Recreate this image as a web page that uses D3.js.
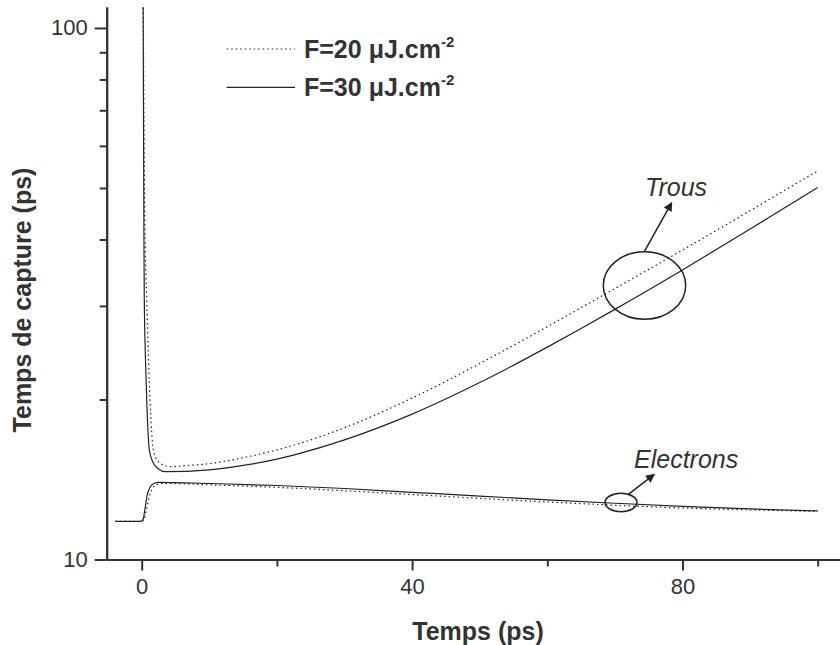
<!DOCTYPE html>
<html>
<head>
<meta charset="utf-8">
<script src="https://cdn.jsdelivr.net/npm/d3@7"></script>
<style>
  body { margin: 0; background: #fff; }
  text { font-family: "Liberation Sans", Arial, sans-serif; fill: #333; }
</style>
</head>
<body>
<div id="chart"></div>
<script>
// time (ps) and capture time (ps)
let holes30T = [0.18, 0.22, 0.28, 0.33, 0.38, 0.55, 0.74, 1.12, 1.7, 2.5, 3.4, 10, 15, 20, 23.4, 30, 40, 50, 60, 64.8, 70, 80, 90, 94.4, 100];
let holes30V = [130, 100, 60, 40, 31, 24, 20, 16.1, 15.2, 14.8, 14.63, 14.75, 15.03, 15.45, 15.84, 16.79, 18.77, 21.52, 25.09, 27.12, 29.55, 35.05, 41.84, 45.3, 50.1];

let holes20T = [0.2, 0.25, 0.35, 0.5, 0.74, 1.0, 1.23, 1.7, 2.0, 3.0, 4.4, 6, 10, 15, 20, 23.4, 30, 40, 50, 60, 64.8, 70, 80, 90, 94.4, 100];
let holes20V = [130, 100, 60, 40, 31, 24, 20, 16.1, 15.6, 15.1, 14.95, 15.0, 15.15, 15.54, 16.08, 16.54, 17.7, 20.12, 23.37, 27.42, 29.67, 32.34, 38.21, 45.31, 48.89, 53.85];

let elec30T = [-3.9, -0.2, 0.2, 0.5, 0.8, 1.2, 1.8, 2.5, 5, 10, 20, 30, 40, 50, 60, 70, 80, 90, 100];
let elec30V = [11.8, 11.8, 11.9, 12.5, 13.2, 13.65, 13.9, 13.97, 13.95, 13.9, 13.78, 13.6, 13.38, 13.16, 12.95, 12.76, 12.59, 12.45, 12.34];

let elec20T = [-3.9, 0, 0.3, 0.7, 1.1, 1.6, 2.3, 3, 5, 10, 20, 30, 40, 50, 60, 70, 80, 90, 100];
let elec20V = [11.8, 11.8, 11.85, 12.4, 13.1, 13.6, 13.85, 13.9, 13.9, 13.82, 13.67, 13.47, 13.25, 13.03, 12.83, 12.65, 12.5, 12.4, 12.32];

let xMajor = [0, 40, 80];
let xMinor = [20, 60, 100];
let yMajor = [10, 100];
let yMinor = [20, 30, 40, 50, 60, 70, 80, 90];
let legendNames = ["F=20 ", "F=30 "];

let w = 840, h = 645;

let svg = d3.select("#chart")
    .append("svg")
    .attr("width", w)
    .attr("height", h);

let x = d3.scaleLinear().domain([-5.18, 103.3]).range([106.7, 840]);
let y = d3.scaleLog().domain([10, 109.5]).range([559.5, 7]);

svg.append("defs").append("clipPath")
    .attr("id", "plot")
    .append("rect")
    .attr("x", 106.7).attr("y", 7)
    .attr("width", 840 - 106.7).attr("height", 559.5 - 7);

let zip = function(t, v) {
    return t.map(function(d, i) { return [d, v[i]]; });
};

let line = d3.line()
    .x(function(d) { return x(d[0]); })
    .y(function(d) { return y(d[1]); })
    .curve(d3.curveMonotoneX);

let series = [
    {data: zip(holes20T, holes20V), dash: "1.5,3"},
    {data: zip(elec20T, elec20V), dash: "1.5,3"},
    {data: zip(holes30T, holes30V), dash: null},
    {data: zip(elec30T, elec30V), dash: null}
];

svg.append("g")
    .attr("clip-path", "url(#plot)")
    .selectAll("path")
    .data(series)
    .enter()
    .append("path")
    .attr("d", function(d) { return line(d.data); })
    .attr("fill", "none")
    .attr("stroke", "#222")
    .attr("stroke-width", 1.2)
    .attr("stroke-dasharray", function(d) { return d.dash; });

// axes
let styleAxis = function(g) {
    g.selectAll("path").attr("stroke", "#333").attr("stroke-width", 2);
    g.selectAll("line").attr("stroke", "#333").attr("stroke-width", 2);
    g.selectAll("text")
        .style("font-size", "22px")
        .style("fill", "#333")
        .style("font-family", "'Liberation Sans', Arial, sans-serif");
};

svg.append("g")
    .attr("transform", "translate(0,559.5)")
    .call(d3.axisBottom(x).tickValues(xMinor).tickSize(7).tickSizeOuter(0).tickFormat(""))
    .call(styleAxis);

svg.append("g")
    .attr("transform", "translate(0,559.5)")
    .call(d3.axisBottom(x).tickValues(xMajor).tickSize(11).tickSizeOuter(0).tickPadding(8).tickFormat(d3.format("d")))
    .call(styleAxis);

svg.append("g")
    .attr("transform", "translate(106.7,0)")
    .call(d3.axisLeft(y).tickValues(yMinor).tickSize(7).tickSizeOuter(0).tickFormat(""))
    .call(styleAxis);

svg.append("g")
    .attr("transform", "translate(106.7,0)")
    .call(d3.axisLeft(y).tickValues(yMajor).tickSize(12).tickSizeOuter(0).tickPadding(7).tickFormat(d3.format("d")))
    .call(styleAxis);

// axis titles
svg.append("text")
    .attr("x", 478)
    .attr("y", 640)
    .attr("text-anchor", "middle")
    .style("font-size", "25px")
    .style("font-weight", "bold")
    .text("Temps (ps)");

svg.append("text")
    .attr("transform", "translate(31,300) rotate(-90)")
    .attr("text-anchor", "middle")
    .style("font-size", "25px")
    .style("font-weight", "bold")
    .text("Temps de capture (ps)");

// legend
let legend = svg.selectAll(".legend")
    .data(legendNames)
    .enter()
    .append("g")
    .attr("class", "legend")
    .attr("transform", function(d, i) {
        return "translate(0," + (49 + i * 38.3) + ")";
    });

legend.append("line")
    .attr("x1", 226.7).attr("x2", 295)
    .attr("y1", 0).attr("y2", 0)
    .attr("stroke", "#222")
    .attr("stroke-width", 1.2)
    .attr("stroke-dasharray", function(d, i) { return i == 0 ? "1.5,3" : null; });

let lt = legend.append("text")
    .attr("x", 304)
    .attr("y", 9)
    .style("font-size", "25px")
    .style("font-weight", "bold");
lt.append("tspan").text(function(d) { return d; });
lt.append("tspan").text("\u03bcJ.cm");
lt.append("tspan")
    .attr("dy", -11)
    .style("font-size", "15px")
    .text("-2");

// annotations
svg.append("defs").append("marker")
    .attr("id", "arrow")
    .attr("viewBox", "0 0 10 10")
    .attr("refX", 9).attr("refY", 5)
    .attr("markerWidth", 11).attr("markerHeight", 9)
    .attr("markerUnits", "userSpaceOnUse")
    .attr("orient", "auto")
    .append("path")
    .attr("d", "M0,0L10,5L0,10z")
    .attr("fill", "#222");

let notes = [
    {label: "Trous", cx: 644.5, cy: 285.5, rx: 41.2, ry: 33.8, a: [644.3, 251.7, 671.7, 202.7], tx: 645, ty: 196},
    {label: "Electrons", cx: 621, cy: 502.5, rx: 16, ry: 9.2, a: [628.3, 494.3, 654.3, 474.3], tx: 634, ty: 468}
];

notes.forEach(function(n) {
    svg.append("ellipse")
        .attr("cx", n.cx).attr("cy", n.cy)
        .attr("rx", n.rx).attr("ry", n.ry)
        .attr("fill", "none")
        .attr("stroke", "#222")
        .attr("stroke-width", 1.5);
    svg.append("line")
        .attr("x1", n.a[0]).attr("y1", n.a[1])
        .attr("x2", n.a[2]).attr("y2", n.a[3])
        .attr("stroke", "#222")
        .attr("stroke-width", 1.5)
        .attr("marker-end", "url(#arrow)");
    svg.append("text")
        .attr("x", n.tx).attr("y", n.ty)
        .style("font-size", "25px")
        .style("font-style", "italic")
        .text(n.label);
});
</script>
</body>
</html>
